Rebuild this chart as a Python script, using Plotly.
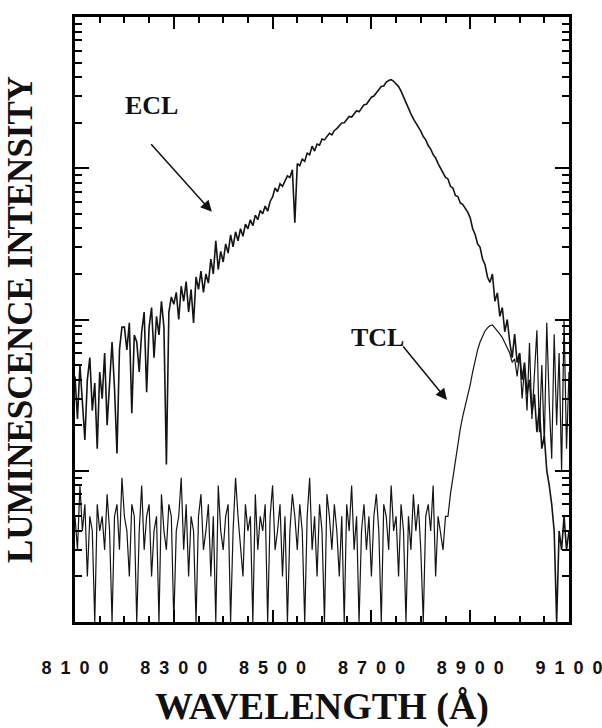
import plotly.graph_objects as go

# ---------------- data ----------------
WL_START = 8100          # first wavelength sample (Angstrom)
WL_STEP = 5              # sampling step (Angstrom)

# ECL spectrum, counts (log axis), 8100 .. 9100 A
ECL_COUNTS = [
    42, 22, 50, 28, 16, 40, 56, 25, 38, 14, 45, 30, 60, 20, 42, 71, 35, 13, 63, 89,
    89, 63, 95, 24, 79, 71, 45, 83, 112, 33, 89, 120, 56, 105, 79, 132, 89, 11, 112, 141,
    126, 151, 100, 166, 132, 178, 112, 158, 95, 191, 158, 209, 151, 200, 174, 251, 200, 331, 214, 282,
    240, 316, 275, 363, 302, 380, 331, 398, 355, 427, 398, 457, 417, 490, 457, 525, 501, 562, 520, 603,
    646, 740, 700, 790, 760, 830, 891, 870, 977, 436, 1072, 1040, 1150, 1110, 1259, 1230, 1400, 1300, 1445, 1420,
    1560, 1540, 1622, 1700, 1660, 1778, 1830, 1905, 1990, 2000, 2089, 2200, 2180, 2291, 2399, 2360, 2512, 2630, 2650, 2818,
    2951, 3000, 3162, 3280, 3467, 3500, 3715, 3802, 3850, 3758, 3631, 3467, 3236, 2951, 2750, 2512, 2291, 2120, 1995, 1862,
    1760, 1622, 1540, 1413, 1340, 1230, 1170, 1072, 1000, 950, 871, 850, 759, 740, 661, 650, 589, 575, 545, 513,
    470, 398, 365, 316, 300, 251, 230, 191, 176, 200, 132, 150, 105, 120, 83, 100, 71, 56, 80, 52,
    60, 40, 52, 32, 40, 24, 32, 18, 26, 14, 17, 10, 8, 6, 4, 1, 4, 3, 5, 3, 4,
]

# TCL spectrum, counts (log axis), 8100 .. 9100 A
TCL_COUNTS = [
    5, 3, 8, 4, 6, 2, 5, 4, 1, 6,
    4, 5, 3, 7, 4, 1, 5, 6, 3, 9,
    5, 4, 2, 6, 5, 1, 4, 8, 3, 5,
    6, 2, 4, 5, 1, 7, 4, 3, 6, 5,
    1, 4, 5, 9, 3, 6, 2, 5, 4, 1,
    5, 7, 3, 4, 6, 2, 5, 1, 8, 4,
    3, 5, 6, 1, 4, 9, 5, 3, 2, 6,
    4, 5, 1, 7, 3, 5, 4, 6, 1, 5,
    8, 3, 4, 6, 2, 5, 1, 4, 7, 5,
    3, 6, 4, 1, 5, 9, 3, 5, 2, 6,
    4, 1, 7, 5, 3, 6, 4, 2, 5, 1,
    6, 4, 8, 3, 5, 1, 4, 6, 3, 5,
    2, 5, 7, 4, 1, 6, 5, 3, 8, 4,
    5, 2, 6, 4, 1, 5, 3, 7, 4, 6,
    3, 1, 5, 6, 4, 8, 2, 5, 4, 3,
    5,
    5, 7, 9, 12, 15, 19, 23, 27, 31, 37, 45, 54, 63, 71, 78, 84, 88, 91, 92, 88,
    85, 80, 76, 70, 64, 60, 52, 55, 42, 60, 30, 48, 25, 70, 22, 40, 85, 18, 50, 15,
    95, 28, 12, 80, 20, 60, 10, 100, 14, 45,
]

X_TICK_VALUES = [8100, 8300, 8500, 8700, 8900, 9100]
X_RANGE = [8100, 9100]
Y_LOG_RANGE = [0, 4]

X_TITLE = "WAVELENGTH (Å)"
Y_TITLE = "LUMINESCENCE INTENSITY"

# ---------------- figure ----------------
wl_ecl = [WL_START + i * WL_STEP for i in range(len(ECL_COUNTS))]
wl_tcl = [WL_START + i * WL_STEP for i in range(len(TCL_COUNTS))]
x_tick_text = ["\u2002".join(str(v)) for v in X_TICK_VALUES]
minor_outside = [v for v in range(X_RANGE[0] + 50, X_RANGE[1], 50) if (v - X_RANGE[0]) % 200 != 0]
y_minor = [k * 10 ** d for d in range(Y_LOG_RANGE[0], Y_LOG_RANGE[1]) for k in range(2, 10)]

LINE_COLOR = "#141414"
SERIF = "Liberation Serif, Times New Roman, serif"
SANS = "Liberation Sans, Arial, sans-serif"

fig = go.Figure()
fig.add_trace(go.Scatter(x=wl_tcl, y=TCL_COUNTS, mode="lines", name="TCL",
                         line=dict(color=LINE_COLOR, width=1.2)))
fig.add_trace(go.Scatter(x=wl_ecl, y=ECL_COUNTS, mode="lines", name="ECL",
                         line=dict(color=LINE_COLOR, width=1.6)))

fig.update_layout(
    width=602, height=728,
    margin=dict(l=75, r=33, t=17, b=106),
    paper_bgcolor="white", plot_bgcolor="white",
    showlegend=False,
    xaxis=dict(
        range=X_RANGE, showgrid=False, zeroline=False,
        showline=True, linecolor="black", linewidth=2.5, mirror="ticks",
        ticks="inside", ticklen=12, tickwidth=2, tickcolor="black",
        tickvals=X_TICK_VALUES, ticktext=x_tick_text,
        tickfont=dict(family=SANS, size=18, color="#111", weight="bold"),
        ticklabelstandoff=28, ticklabeloverflow="allow",
        minor=dict(ticks="inside", ticklen=6, tickwidth=2, tickcolor="black",
                   dtick=50, tick0=8100, showgrid=False),
        title=dict(text=X_TITLE, standoff=30,
                   font=dict(family=SERIF, size=38, color="#111", weight="bold")),
        automargin=False,
    ),
    xaxis2=dict(
        range=X_RANGE, overlaying="x", anchor="y", side="bottom",
        showgrid=False, zeroline=False, showline=True, linecolor="black",
        linewidth=2.5, mirror="ticks",
        ticks="outside", ticklen=5, tickwidth=2, tickcolor="black",
        tickvals=minor_outside, showticklabels=False,
    ),
    yaxis=dict(
        type="log", range=Y_LOG_RANGE, showgrid=False, zeroline=False,
        showline=True, linecolor="black", linewidth=2.5, mirror="ticks",
        ticks="inside", ticklen=14, tickwidth=2, tickcolor="black",
        dtick=1, showticklabels=False,
        minor=dict(ticks="inside", ticklen=7, tickwidth=2, tickcolor="black",
                   tickmode="array", tickvals=y_minor, showgrid=False),
        title=dict(text=Y_TITLE, standoff=30,
                   font=dict(family=SERIF, size=35, color="#111", weight="bold")),
        automargin=False,
    ),
    annotations=[
        dict(text="ECL", xref="paper", yref="paper", x=0.097, y=0.881,
             showarrow=False, font=dict(family=SERIF, size=26, color="#111", weight="bold")),
        dict(text="TCL", xref="paper", yref="paper", x=0.613, y=0.471,
             showarrow=False, font=dict(family=SERIF, size=26, color="#111", weight="bold")),
        dict(text="", xref="paper", yref="paper", x=0.277, y=0.678, ax=-62, ay=-69,
             showarrow=True, arrowhead=2, arrowsize=1.5, arrowwidth=1.5,
             arrowcolor="#111", standoff=0),
        dict(text="", xref="paper", yref="paper", x=0.753, y=0.367, ax=-45, ay=-55,
             showarrow=True, arrowhead=2, arrowsize=1.5, arrowwidth=1.5,
             arrowcolor="#111", standoff=0),
    ],
)

fig.write_html("out.html")
